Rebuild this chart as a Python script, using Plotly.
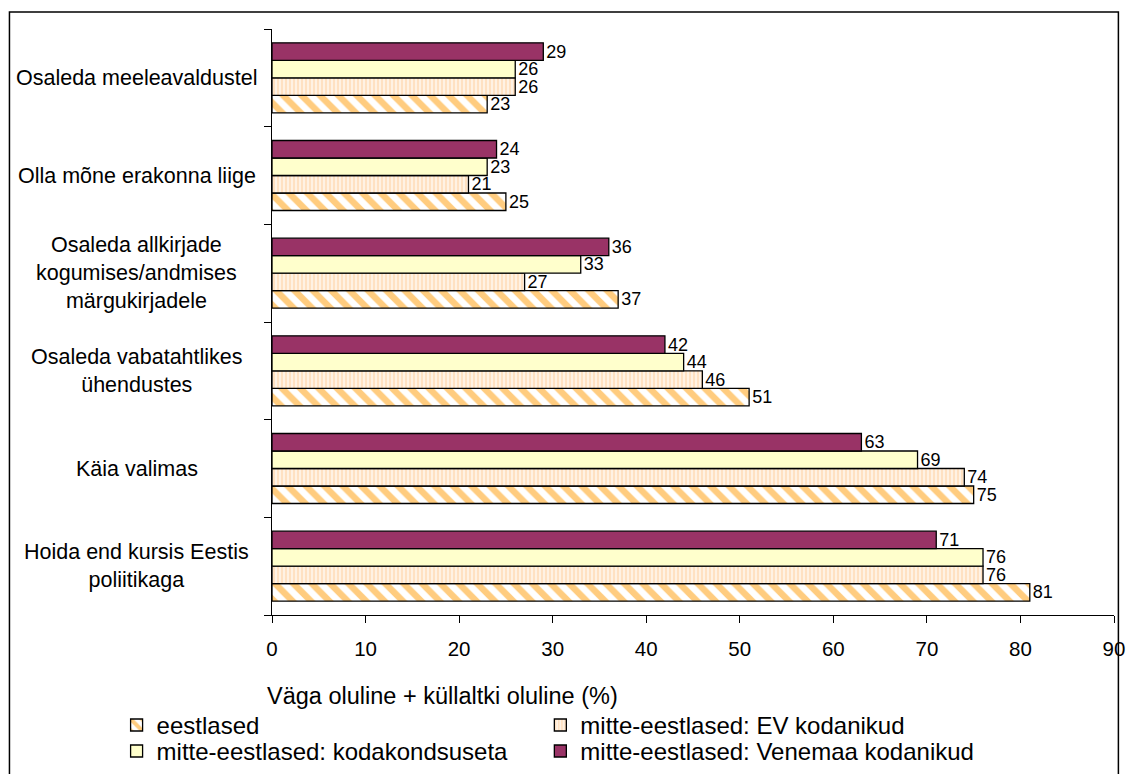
import plotly.graph_objects as go

categories = [
    "Hoida end kursis Eestis<br>poliitikaga",
    "Käia valimas",
    "Osaleda vabatahtlikes<br>ühendustes",
    "Osaleda allkirjade<br>kogumises/andmises<br>märgukirjadele",
    "Olla mõne erakonna liige",
    "Osaleda meeleavaldustel",
]
series_names = [
    "eestlased",
    "mitte-eestlased: EV kodanikud",
    "mitte-eestlased: kodakondsuseta",
    "mitte-eestlased: Venemaa kodanikud",
]
eestlased = [81, 75, 51, 37, 25, 23]
ev_kodanikud = [76, 74, 46, 27, 21, 26]
kodakondsuseta = [76, 69, 44, 33, 23, 26]
venemaa = [71, 63, 42, 36, 24, 29]
x_ticks = [0, 10, 20, 30, 40, 50, 60, 70, 80, 90]
x_title = "Väga oluline + küllaltki oluline (%)"

FONT = "Liberation Sans, Arial, sans-serif"

styles = [
    dict(color="white", pattern=dict(shape="\\", fgcolor="#FF9900", bgcolor="white", size=13, solidity=0.5)),
    dict(color="#FFF2E4", pattern=dict(shape="|", fgcolor="#FFCFA0", bgcolor="#FFF2E4", size=4, solidity=0.5)),
    dict(color="#FFFFCC"),
    dict(color="#993366"),
]
legend_ids = ["legend", "legend2", "legend3", "legend4"]

W, H = 1127, 774
# plot area in page pixels
SL, SR, ST, SB = 271.5, 1114, 29, 615.5
ml, mr, mt, mb = SL, W - SR, ST, H - SB
pw, ph = W - ml - mr, H - mt - mb


def px(x):
    return (x - ml) / pw


def py(y):
    return (H - mb - y) / ph


fig = go.Figure()
for name, vals, st, lg in zip(series_names, [eestlased, ev_kodanikud, kodakondsuseta, venemaa], styles, legend_ids):
    marker = dict(color=st["color"], line=dict(color="black", width=1.3))
    if "pattern" in st:
        marker["pattern"] = st["pattern"]
    fig.add_trace(go.Bar(
        y=categories, x=vals, name=name, orientation="h", legend=lg,
        marker=marker, text=[str(v) for v in vals], textposition="outside",
        textfont=dict(family=FONT, size=18, color="black"),
        constraintext="none", cliponaxis=False, hoverinfo="skip",
    ))

for c in categories:
    fig.add_annotation(x=px(136), xref="paper", y=c, yref="y", text=c, showarrow=False,
                       xanchor="center", align="center", font=dict(family=FONT, size=21.5, color="black"))

fig.add_annotation(x=px(264), xref="paper", y=py(697), yref="paper", text=x_title, showarrow=False,
                   xanchor="left", yanchor="middle", font=dict(family=FONT, size=23.5, color="black"))

fig.add_shape(type="rect", xref="paper", yref="paper", x0=px(8.8), x1=px(1118.4), y0=py(820), y1=py(12),
              line=dict(color="black", width=1.5), fillcolor="rgba(0,0,0,0)", layer="below")

legend_common = dict(orientation="h", xanchor="left", yanchor="middle", itemwidth=30,
                     font=dict(family=FONT, size=24, color="black"), bgcolor="rgba(0,0,0,0)")

fig.update_layout(
    width=W, height=H,
    margin=dict(l=ml, r=mr, t=mt, b=mb, autoexpand=False),
    paper_bgcolor="white", plot_bgcolor="white",
    barmode="group", bargap=0.283, bargroupgap=0,
    font=dict(family=FONT, size=19, color="black"),
    showlegend=True,
    legend=dict(x=px(116), y=py(726), **legend_common),
    legend2=dict(x=px(540), y=py(726), **legend_common),
    legend3=dict(x=px(116), y=py(752), **legend_common),
    legend4=dict(x=px(540), y=py(752), **legend_common),
    xaxis=dict(range=[0, 90], tickvals=x_ticks, ticks="outside", ticklen=7, tickcolor="black",
               showline=True, linecolor="black", linewidth=1, showgrid=False, zeroline=False,
               ticklabelstandoff=8, ticklabeloverflow="allow",
               tickfont=dict(family=FONT, size=20.5, color="black")),
    yaxis=dict(showticklabels=False, ticks="outside", tickson="boundaries", ticklen=7, tickcolor="black",
               showline=True, linecolor="black", linewidth=1, showgrid=False),
)

fig.write_html("out.html", config={"displayModeBar": False},
               post_script="document.body.style.margin='0';document.body.style.overflow='hidden';")
